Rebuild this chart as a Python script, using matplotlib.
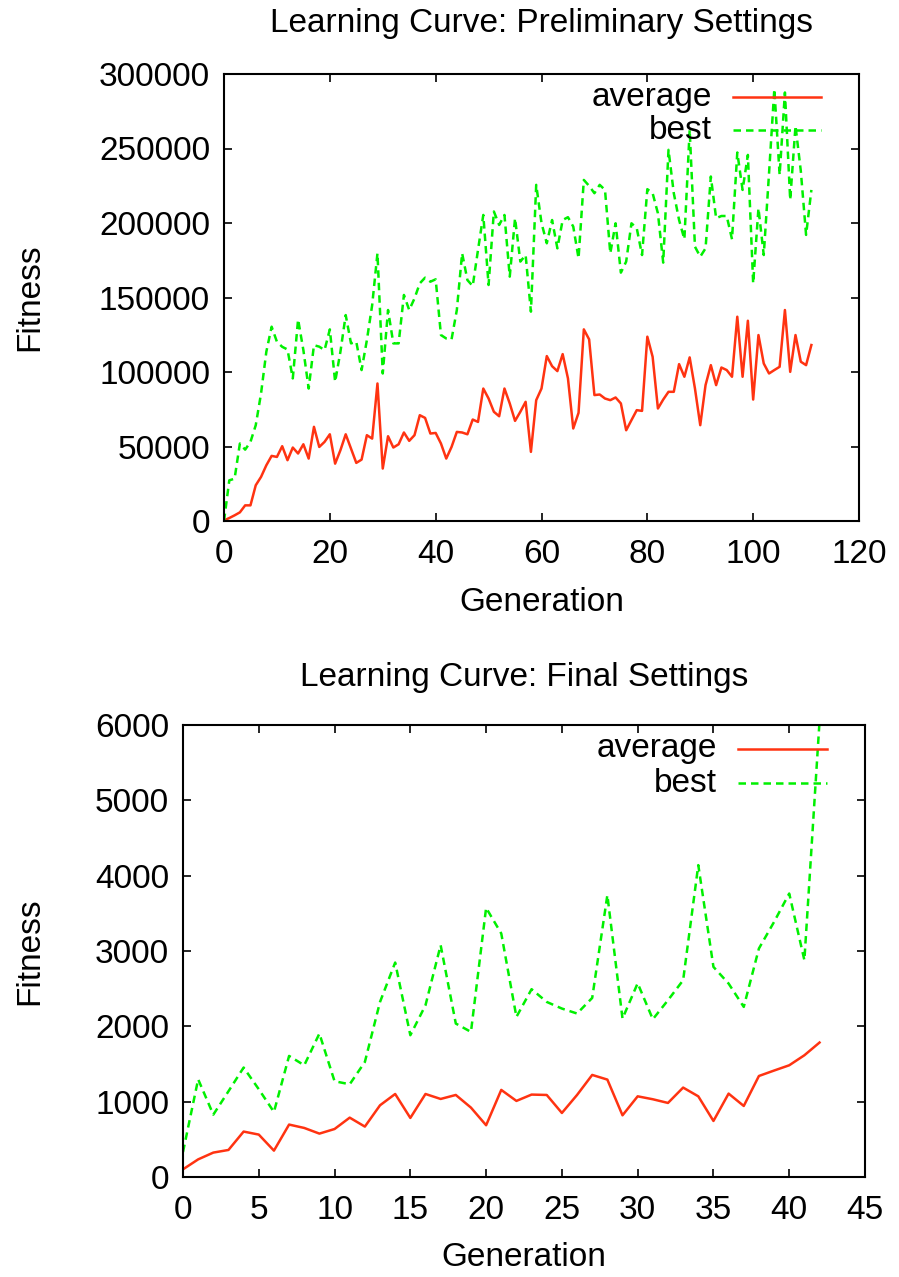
import matplotlib
matplotlib.use("Agg")
import matplotlib.pyplot as plt
import numpy as np

plt.rcParams['font.family'] = ['Liberation Sans', 'DejaVu Sans']

# --- data: preliminary settings (values in thousands) ---
avg_prelim_k = [0.4, 2, 3.8, 5.8, 10.5, 10.5, 24, 29.6, 37.4, 43.7,
                43, 50.2, 40.8, 49.3, 45.3, 51.5, 41.9, 63.2, 49.7, 53.1,
                58.2, 38.5, 47.5, 58.2, 48.6, 39, 41.2, 57.6, 55.3, 92.3,
                35.2, 56.9, 49.3, 51.5, 59.4, 53.8, 57.6, 71, 69.2, 58.7,
                59.1, 52, 41.9, 49.7, 59.8, 59.4, 58.2, 68.1, 66.5, 88.9,
                82.2, 73.3, 70.3, 88.9, 78.9, 67.2, 73.3, 80, 46.4, 81.1,
                88.9, 110.7, 103.9, 100.6, 112, 95.7, 62.1, 72.6, 128.6, 121.9,
                84.5, 84.9, 82.2, 81.1, 82.9, 78.9, 60.9, 67.7, 74.4, 73.9,
                123.7, 110.2, 75.5, 81.5, 86.7, 86.7, 105.3, 96.8, 109.8, 88.9,
                64.3, 91.2, 104.6, 91.2, 103, 101.3, 96.8, 137.1, 96.8, 134.4,
                81.5, 124.8, 105.7, 99, 101.3, 103.5, 141.6, 100.1, 124.8, 106.9,
                104.6, 118.1]
best_prelim_k = [0, 27.3, 28.4, 52, 47.9, 53.1, 64.3, 85.6, 113.6, 130.4,
                 120.3, 116.9, 115.1, 95.7, 135.3, 114.7, 88.9, 118, 117, 114.7,
                 128.6, 93.4, 113.6, 138.2, 119.2, 120.3, 101.3, 121.4, 144.9, 179.7,
                 99, 141.6, 119.2, 119.2, 151.7, 141.6, 149.4, 159.5, 163.3, 160.6,
                 162.2, 124.8, 122.5, 121.9, 141.6, 179.7, 161.7, 157.7, 181.9, 205.4,
                 158.4, 207.7, 198.7, 205.4, 164, 203.2, 174.1, 178.5, 140.5, 225.6,
                 200, 186.4, 202, 183, 202, 203.9, 197.6, 176.3, 228.9, 224.9,
                 220, 225.6, 222.2, 179.7, 199.8, 166.7, 174.1, 199.8, 196.5, 178.5,
                 222.7, 220, 206.5, 173.4, 249.1, 220, 202, 189.1, 262.5, 184.1,
                 177.4, 183, 231.2, 203.2, 204.7, 204.7, 189.1, 247.3, 222.2, 245.7,
                 159.5, 209.9, 178.5, 233.4, 289.9, 232.3, 287.6, 215.5, 265.2, 235,
                 192, 222.2]

# --- data: final settings ---
avg_final = [102, 234, 324, 359, 603, 563, 350, 696, 651, 576,
             637, 788, 669, 952, 1102, 784, 1102, 1036, 1089, 921,
             687, 1156, 1010, 1094, 1089, 850, 1089, 1355, 1293, 819,
             1071, 1032, 983, 1187, 1071, 744, 1107, 943, 1341, 1413,
             1483, 1616, 1785]
best_final = [332, 1297, 828, 1138, 1453, 1165, 863, 1607, 1483, 1904,
              1271, 1231, 1527, 2324, 2847, 1882, 2280, 3077, 2037, 1926,
              3573, 3232, 2125, 2493, 2324, 2236, 2170, 2377, 3742, 2103,
              2572, 2094, 2347, 2612, 4140, 2789, 2568, 2258, 3033, 3386,
              3763, 2878, 6050]

RED = '#ff3311'
GREEN = '#00f000'
FS = 24

fig = plt.figure(figsize=(8.99, 12.77), dpi=100)
ax1 = fig.add_axes([224 / 899, 1 - 521 / 1277, 635 / 899, 447 / 1277])
ax2 = fig.add_axes([183 / 899, 1 - 1177 / 1277, 682 / 899, 452 / 1277])


def style_axes(ax):
    for s in ax.spines.values():
        s.set_linewidth(1.5)
    ax.tick_params(direction='in', length=6, width=1.2, top=True, right=True,
                   labelsize=FS)
    ax.tick_params(axis='x', pad=13)
    ax.tick_params(axis='y', pad=10)


def add_key(ax, x0, x1, xt, ys, labels, styles):
    for y, lab, st in zip(ys, labels, styles):
        ax.plot([x0, x1], [y, y], transform=ax.transAxes, clip_on=False, **st)
        ax.text(xt, y, lab, transform=ax.transAxes, ha='right', va='center',
                fontsize=FS)


red_style = dict(color=RED, lw=1.8)
green_style = dict(color=GREEN, lw=1.8, ls=(0, (3, 2)))

# top chart
gen1 = np.arange(len(avg_prelim_k))
ax1.plot(gen1, np.array(avg_prelim_k) * 1000, **red_style)
ax1.plot(gen1, np.array(best_prelim_k) * 1000, **green_style)
ax1.set_xlim(0, 120)
ax1.set_ylim(0, 300000)
ax1.set_xticks(range(0, 121, 20))
ax1.set_yticks(range(0, 300001, 50000))
ax1.ticklabel_format(style='plain', useOffset=False)
style_axes(ax1)
ax1.set_title('Learning Curve: Preliminary Settings', fontsize=FS, pad=30)
ax1.set_xlabel('Generation', fontsize=FS)
ax1.set_ylabel('Fitness', fontsize=FS)
ax1.xaxis.set_label_coords(0.5, -0.183)
ax1.yaxis.set_label_coords(-0.3055, 0.5)
ax1.xaxis.label.set_va('center')
ax1.yaxis.label.set_va('center')
add_key(ax1, 0.8016, 0.940, 0.7685, [0.9480, 0.8740], ['average', 'best'],
        [red_style, green_style])

# bottom chart
gen2 = np.arange(len(avg_final))
ax2.plot(gen2, avg_final, **red_style)
ax2.plot(gen2, best_final, **green_style)
ax2.set_xlim(0, 45)
ax2.set_ylim(0, 6000)
ax2.set_xticks(range(0, 46, 5))
ax2.set_yticks(range(0, 6001, 1000))
style_axes(ax2)
ax2.set_title('Learning Curve: Final Settings', fontsize=FS, pad=28)
ax2.set_xlabel('Generation', fontsize=FS)
ax2.set_ylabel('Fitness', fontsize=FS)
ax2.xaxis.set_label_coords(0.5, -0.179)
ax2.yaxis.set_label_coords(-0.2243, 0.5)
ax2.xaxis.label.set_va('center')
ax2.yaxis.label.set_va('center')
add_key(ax2, 0.8138, 0.944, 0.783, [0.9470, 0.8710], ['average', 'best'],
        [red_style, green_style])

fig.savefig('out.png', dpi=100)
